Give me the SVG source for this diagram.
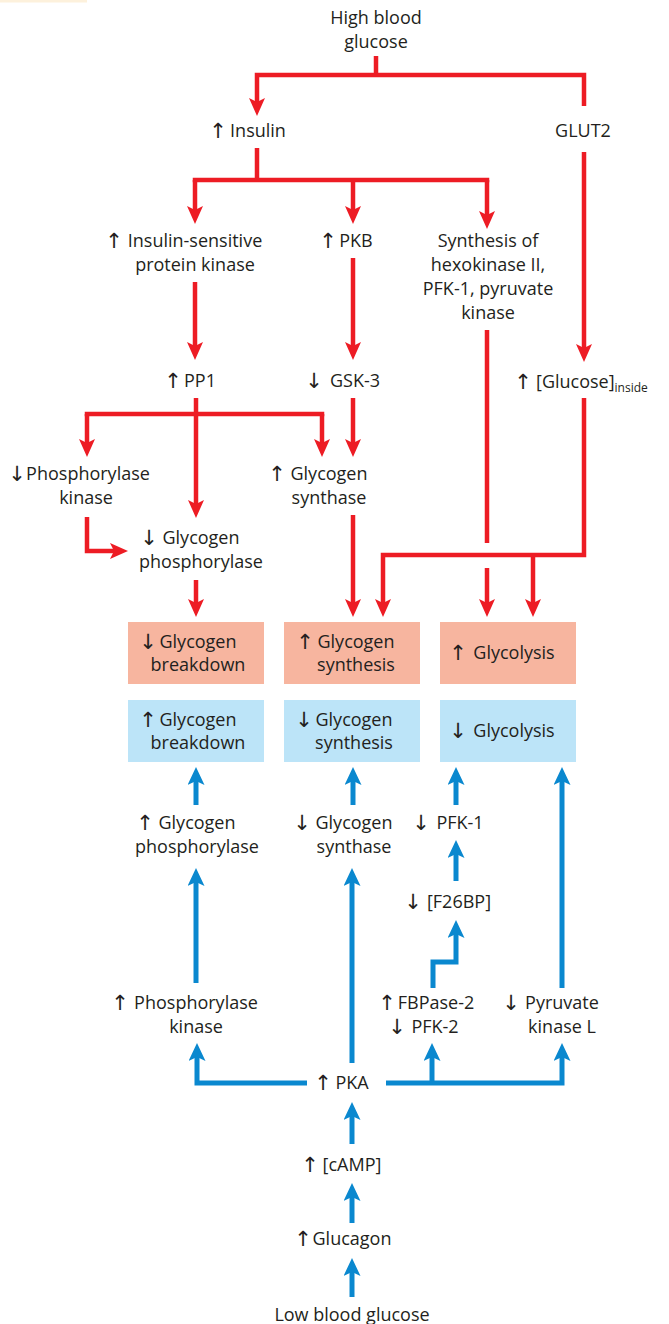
<svg xmlns="http://www.w3.org/2000/svg" width="669" height="1324" viewBox="0 0 669 1324">
<style>
.t{font-family:"Open Sans","Noto Sans",sans-serif;font-size:18px;fill:#231f20;text-anchor:middle}
.s{text-anchor:start}
.a{font-family:"DejaVu Sans",sans-serif;font-size:21px;fill:#231f20;text-anchor:middle}
.r{fill:none;stroke:#ed1c24;stroke-width:4.5;stroke-linejoin:miter;stroke-linecap:butt}
.b{fill:none;stroke:#0a88cf;stroke-width:5;stroke-linejoin:miter;stroke-linecap:butt}
.sq{stroke-linecap:square}
.ra{marker-end:url(#mr)}
.ba{marker-end:url(#mb)}
.pr{fill:#f7b59f}
.pb{fill:#bce4f8}
</style>
<defs>
<marker id="mr" viewBox="0 0 18 16" refX="8" refY="8" markerWidth="18" markerHeight="16" markerUnits="userSpaceOnUse" orient="auto">
<path d="M0,0 L18,8 L0,16 L4,8 Z" fill="#ed1c24"/>
</marker>
<marker id="mb" viewBox="0 0 18 17" refX="8" refY="8.5" markerWidth="18" markerHeight="17" markerUnits="userSpaceOnUse" orient="auto">
<path d="M0,0 L18,8.5 L0,17 L4,8.5 Z" fill="#0a88cf"/>
</marker>
</defs>
<rect x="0" y="0" width="87" height="2.5" fill="#fdf1dc"/>

<g id="connectors">
<g id="red">
<path class="r" d="M376,56 V75"/>
<path class="r ra" d="M584,106 V75 H257 V106"/>
<path class="r ra" d="M584,152 V352"/>
<path class="r" d="M257,148 V180"/>
<path class="r sq" d="M195,180 H487"/>
<path class="r ra" d="M195,180 V214"/>
<path class="r ra" d="M353,180 V214"/>
<path class="r ra" d="M487,180 V219"/>
<path class="r ra" d="M195,282 V350"/>
<path class="r ra" d="M353,258 V350"/>
<path class="r" d="M487,330 V543"/>
<path class="r ra" d="M487,568 V607"/>
<path class="r ra" d="M196,398 V508"/>
<path class="r sq" d="M87,414 H322"/>
<path class="r ra" d="M87,414 V447"/>
<path class="r ra" d="M322,414 V447"/>
<path class="r ra" d="M353,398 V447"/>
<path class="r ra" d="M87,517 V551 H118"/>
<path class="r ra" d="M196,580 V607"/>
<path class="r ra" d="M353,515 V607"/>
<path class="r ra" d="M584,398 V555 H383 V607"/>
<path class="r ra" d="M533,555 V607"/>
</g>
<g id="blue">
<path class="b ba" d="M196,805 V777"/>
<path class="b ba" d="M353,805 V777"/>
<path class="b ba" d="M456,805 V777"/>
<path class="b ba" d="M456,881 V850"/>
<path class="b ba" d="M433,988 V962 H456 V930"/>
<path class="b ba" d="M562,988 V777"/>
<path class="b ba" d="M196,983 V878"/>
<path class="b ba" d="M352,1063 V878"/>
<path class="b ba" d="M307,1083 H197 V1053"/>
<path class="b ba" d="M386,1083 H562 V1053"/>
<path class="b ba" d="M432,1083 V1053"/>
<path class="b ba" d="M352,1144 V1112"/>
<path class="b ba" d="M352,1223 V1193"/>
<path class="b ba" d="M352,1297 V1268"/>
</g>
</g>

<g id="n_high"><text class="t" x="376" y="24">High blood</text><text class="t" x="376" y="48">glucose</text></g>
<g id="n_insulin"><text class="a" x="218" y="138">↑</text><text class="t" x="258" y="137">Insulin</text></g>
<g id="n_glut2"><text class="t" x="583" y="137">GLUT2</text></g>
<g id="n_isk"><text class="a" x="114" y="248">↑</text><text class="t" x="195" y="247">Insulin-sensitive</text><text class="t" x="195" y="271">protein kinase</text></g>
<g id="n_pkb"><text class="a" x="328" y="248">↑</text><text class="t" x="356" y="247">PKB</text></g>
<g id="n_synth"><text class="t" x="488" y="247">Synthesis of</text><text class="t" x="488" y="271">hexokinase II,</text><text class="t" x="488" y="295">PFK-1, pyruvate</text><text class="t" x="488" y="319">kinase</text></g>
<g id="n_pp1"><text class="a" x="173" y="388">↑</text><text class="t" x="200" y="387">PP1</text></g>
<g id="n_gsk3"><text class="a" x="314" y="388">↓</text><text class="t" x="355" y="387">GSK-3</text></g>
<g id="n_glcin"><text class="a" x="523" y="389">↑</text><text class="t s" x="536" y="388">[Glucose]<tspan font-size="12" dy="4">inside</tspan></text></g>
<g id="n_phk"><text class="a" x="17" y="481">↓</text><text class="t" x="88" y="480">Phosphorylase</text><text class="t" x="86" y="504">kinase</text></g>
<g id="n_gs_up"><text class="a" x="277" y="481">↑</text><text class="t" x="329" y="480">Glycogen</text><text class="t" x="329" y="504">synthase</text></g>
<g id="n_gp_down"><text class="a" x="149" y="545">↓</text><text class="t" x="201" y="544">Glycogen</text><text class="t" x="201" y="568">phosphorylase</text></g>

<g id="box_r1"><rect class="pr" x="128" y="622" width="136" height="62"/><text class="a" x="148" y="649">↓</text><text class="t" x="198" y="648">Glycogen</text><text class="t" x="198" y="671">breakdown</text></g>
<g id="box_r2"><rect class="pr" x="284" y="622" width="136" height="62"/><text class="a" x="305" y="649">↑</text><text class="t" x="356" y="648">Glycogen</text><text class="t" x="356" y="671">synthesis</text></g>
<g id="box_r3"><rect class="pr" x="440" y="622" width="136" height="62"/><text class="a" x="458" y="660">↑</text><text class="t" x="514" y="659">Glycolysis</text></g>
<g id="box_b1"><rect class="pb" x="128" y="700" width="136" height="62"/><text class="a" x="148" y="727">↑</text><text class="t" x="198" y="726">Glycogen</text><text class="t" x="198" y="749">breakdown</text></g>
<g id="box_b2"><rect class="pb" x="284" y="700" width="136" height="62"/><text class="a" x="304" y="727">↓</text><text class="t" x="354" y="726">Glycogen</text><text class="t" x="354" y="749">synthesis</text></g>
<g id="box_b3"><rect class="pb" x="440" y="700" width="136" height="62"/><text class="a" x="458" y="738">↓</text><text class="t" x="514" y="737">Glycolysis</text></g>

<g id="n_gp_up"><text class="a" x="145" y="830">↑</text><text class="t" x="197" y="829">Glycogen</text><text class="t" x="197" y="853">phosphorylase</text></g>
<g id="n_gs_down"><text class="a" x="302" y="830">↓</text><text class="t" x="354" y="829">Glycogen</text><text class="t" x="354" y="853">synthase</text></g>
<g id="n_pfk1"><text class="a" x="421" y="830">↓</text><text class="t" x="460" y="829">PFK-1</text></g>
<g id="n_f26bp"><text class="a" x="413" y="909">↓</text><text class="t" x="459" y="908">[F26BP]</text></g>
<g id="n_phk_up"><text class="a" x="120" y="1010">↑</text><text class="t" x="196" y="1009">Phosphorylase</text><text class="t" x="196" y="1033">kinase</text></g>
<g id="n_fbpase"><text class="a" x="387" y="1010">↑</text><text class="t" x="436" y="1009">FBPase-2</text><text class="a" x="397" y="1034">↓</text><text class="t" x="435" y="1033">PFK-2</text></g>
<g id="n_pkl"><text class="a" x="511" y="1010">↓</text><text class="t" x="562" y="1009">Pyruvate</text><text class="t" x="562" y="1033">kinase L</text></g>
<g id="n_pka"><text class="a" x="323" y="1090">↑</text><text class="t" x="352" y="1089">PKA</text></g>
<g id="n_camp"><text class="a" x="310" y="1172">↑</text><text class="t" x="352" y="1171">[cAMP]</text></g>
<g id="n_glucagon"><text class="a" x="303" y="1246">↑</text><text class="t" x="352" y="1245">Glucagon</text></g>
<g id="n_low"><text class="t" x="352" y="1321">Low blood glucose</text></g>
</svg>
